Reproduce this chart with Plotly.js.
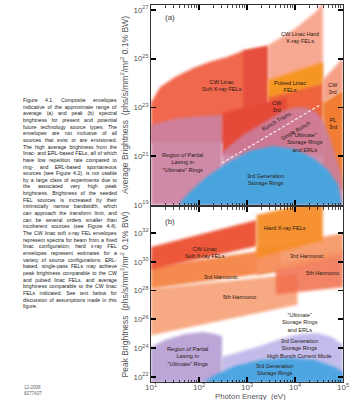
<!DOCTYPE html>
<html><head><meta charset="utf-8">
<script src="https://cdn.plot.ly/plotly-3.0.1.min.js"></script>
<style>html,body{margin:0;padding:0;background:#fff}#chart{width:354px;height:400px}</style>
</head><body><div id="chart"></div>
<script>
// ---- DATA: region envelopes, values as log10(photon energy eV) and log10(brightness) ----
// Panel (a) average brightness
const softRedE = [1.0, 1.19, 1.5, 1.88, 2.23, 2.58, 2.92, 3.21, 3.44, 3.44, 1.0];
const softRedB = [23.2, 23.84, 24.25, 24.62, 24.87, 25.07, 25.32, 25.44, 25.52, 21.56, 21.56];
const softDarkE = [2.92, 3.21, 3.44, 3.44, 2.92];
const softDarkB = [25.32, 25.44, 25.52, 22.08, 22.08];
const hardE = [3.44, 3.7, 3.96, 4.2, 4.45, 4.58, 4.58, 3.44];
const hardB = [25.56, 25.87, 26.18, 26.54, 26.95, 27.31, 22.59, 22.59];
const redOrE = [3.44, 4.58, 4.58, 3.44];
const redOrB = [23.51, 24.03, 21.05, 21.05];
const cw3rdLE = [2.48, 3.83, 3.83, 2.48];
const cw3rdLB = [22.77, 23.41, 21.05, 21.05];
const pulsedE = [3.44, 4.58, 4.58, 3.44];
const pulsedB = [24.13, 24.85, 23.97, 23.41];
const cw3rdRE = [4.58, 5.0, 5.0, 4.58];
const cw3rdRB = [24.13, 25.03, 23.72, 23.2];
const pl3rdE = [4.58, 5.0, 5.0, 4.58];
const pl3rdB = [23.2, 23.72, 19.62, 19.62];
const partialAE = [1.0, 1.0, 1.19, 1.5, 1.88, 2.2, 2.48, 2.48];
const partialAB = [19.0, 22.28, 22.38, 22.54, 22.62, 22.67, 22.69, 19.0];
const domeAE = [2.48, 2.92, 3.44, 3.75, 4.04, 4.27, 4.46, 4.60, 4.73, 4.85, 4.94, 5.0, 5.0, 2.48];
const domeAB = [21.17, 21.87, 22.49, 22.86, 23.02, 22.98, 22.77, 22.4, 21.75, 21.05, 20.44, 19.82, 19.0, 19.0];
const blueAE = [1.56, 1.81, 2.13, 2.58, 3.06, 3.54, 4.0, 4.38, 4.69, 4.9, 4.98];
const blueAB = [19.0, 19.53, 20.11, 20.72, 21.22, 21.42, 21.3, 20.93, 20.44, 19.82, 19.0];
const dashE = [2.48, 4.52];
const dashB = [20.72, 23.1];
// Panel (b) peak brightness
const softFundE = [1.0, 3.2, 3.2, 1.0];
const softFundB = [31.03, 32.89, 31.07, 29.45];
const soft3rdE = [1.0, 3.7, 3.7, 1.0];
const soft3rdB = [29.65, 30.96, 29.34, 28.13];
const soft5thE = [1.0, 4.05, 4.05, 1.0];
const soft5thB = [28.13, 29.14, 27.02, 24.89];
const hardFundE = [3.2, 4.58, 4.58, 3.2];
const hardFundB = [33.24, 34.31, 31.47, 30.26];
const hard3rdE = [3.2, 5.0, 5.0, 3.2];
const hard3rdB = [30.96, 31.98, 30.46, 29.04];
const hard5thE = [3.6, 5.0, 5.0, 3.6];
const hard5thB = [29.75, 30.81, 28.23, 27.72];
const partialBE = [1.0, 1.0, 1.29, 1.71, 2.08, 2.33, 2.48, 2.48];
const partialBB = [21.6, 24.08, 24.56, 24.98, 25.12, 24.98, 24.84, 21.6];
const hbcE = [2.48, 2.85, 3.27, 3.75, 4.1, 4.46, 4.77, 5.0, 5.0, 2.48];
const hbcB = [23.38, 23.73, 24.15, 24.71, 24.98, 25.05, 24.77, 24.22, 21.6, 21.6];
const blueBE = [2.08, 2.33, 2.75, 3.27, 3.9, 4.42, 4.83, 5.0, 5.0];
const blueBB = [21.6, 22.13, 22.76, 23.18, 23.32, 23.18, 22.69, 22.35, 21.6];

// tick exponents
const xTickExp = [1, 2, 3, 4, 5];
const yaLabelExp = [19, 21, 23, 25, 27];
const ybLabelExp = [22, 24, 26, 28, 30, 32];

const captionLines = [
 "Figure 4.1. Composite envelopes",
 "indicative of the approximate range of",
 "average (a) and peak (b) spectral",
 "brightness for present and potential",
 "future technology source types. The",
 "envelopes are not inclusive of all",
 "sources that exist or are envisioned.",
 "The high average brightness from the",
 "linac- and ERL-based FELs, all of which",
 "have low repetition rate compared to",
 "ring- and ERL-based spontaneous",
 "sources (see Figure 4.2), is not usable",
 "by a large class of experiments due to",
 "the associated very high peak",
 "brightness. Brightness of the seeded",
 "FEL sources is increased by their",
 "intrinsically narrow bandwidth, which",
 "can approach the transform limit, and",
 "can be several orders smaller than",
 "incoherent sources (see Figure 4.4).",
 "The CW linac soft x-ray FEL envelopes",
 "represent spectra for beam from a fixed",
 "linac configuration; hard x-ray FEL",
 "envelopes represent estimates for a",
 "variety of source configurations. ERL-",
 "based, single-pass FELs may achieve",
 "peak brightness comparable to the CW",
 "and pulsed linac FELs, and average",
 "brightness comparable to the CW linac",
 "FELs indicated. See text below for",
 "discussion of assumptions made in this",
 "figure."
];

// ---- build ----
const P = v => Math.pow(10, v);
const FONT = 'Liberation Sans, Arial, sans-serif';
function poly(E, B, color, panel) {
  return {type:'scatter', mode:'lines', x:E.map(P), y:B.map(P), fill:'toself',
    fillcolor:color, line:{width:0, color:'rgba(0,0,0,0)'}, hoverinfo:'skip', showlegend:false,
    xaxis: panel==='a'?'x':'x2', yaxis: panel==='a'?'y':'y2'};
}
const data = [
  poly(softRedE, softRedB, 'rgb(240,104,78)', 'a'),
  poly(softDarkE, softDarkB, 'rgb(230,80,60)', 'a'),
  poly(hardE, hardB, 'rgb(247,168,145)', 'a'),
  poly(redOrE, redOrB, 'rgb(238,100,58)', 'a'),
  poly(cw3rdLE, cw3rdLB, 'rgb(229,72,55)', 'a'),
  poly(pulsedE, pulsedB, 'rgb(246,150,35)', 'a'),
  poly(cw3rdRE, cw3rdRB, 'rgb(246,160,135)', 'a'),
  poly(pl3rdE, pl3rdB, 'rgb(240,125,50)', 'a'),
  poly(partialAE, partialAB, 'rgba(203,128,160,0.92)', 'a'),
  poly(domeAE, domeAB, 'rgba(203,128,160,0.88)', 'a'),
  poly(blueAE, blueAB, 'rgb(74,164,222)', 'a'),
  {type:'scatter', mode:'lines', x:dashE.map(P), y:dashB.map(P), line:{color:'rgba(255,255,255,0.9)', width:1.1, dash:'3px,2px'}, hoverinfo:'skip', showlegend:false, xaxis:'x', yaxis:'y'},
  poly(soft5thE, soft5thB, 'rgba(246,160,118,0.9)', 'b'),
  poly(soft3rdE, soft3rdB, 'rgba(243,125,60,0.9)', 'b'),
  poly(hard5thE, hard5thB, 'rgba(240,108,75,0.85)', 'b'),
  poly(hard3rdE, hard3rdB, 'rgba(246,148,98,0.9)', 'b'),
  poly(softFundE, softFundB, 'rgba(236,80,48,0.95)', 'b'),
  poly(hardFundE, hardFundB, 'rgba(246,140,38,0.95)', 'b'),
  poly(hbcE, hbcB, 'rgb(195,188,235)', 'b'),
  poly(partialBE, partialBB, 'rgb(188,165,215)', 'b'),
  poly(blueBE, blueBB, 'rgb(78,165,225)', 'b')
];

const decades = (lo, hi) => { const a=[]; for(let d=Math.ceil(lo); d<=Math.floor(hi); d++) a.push(Math.pow(10,d)); return a; };
const minorOf = (lo, hi) => { const a=[]; for(let d=Math.floor(lo); d<Math.ceil(hi); d++) for(let k=2;k<10;k++) a.push(k*Math.pow(10,d)); return a; };
const tickFont = {family:FONT, size:8, color:'#555'};
const supLabel = e => '10<sup>'+e+'</sup>';
const minorStyle = vals => ({tickmode:'array', tickvals:vals, ticks:'inside', ticklen:2.5, tickwidth:0.7, tickcolor:'#000', showgrid:false});

function xax(anchor, showLabels) {
  const o = {type:'log', range:[1,5], anchor:anchor, domain:[0,1],
    tickmode:'array', tickvals:xTickExp.map(P),
    ticks:'inside', ticklen:5, tickwidth:1.4, tickcolor:'#000', showline:true, linecolor:'#000', linewidth:0.8,
    mirror:'allticks', showgrid:false, zeroline:false, tickfont:tickFont, showticklabels:showLabels,
    minor:minorStyle(minorOf(1,5))};
  if (showLabels) { o.ticktext = xTickExp.map(supLabel); o.ticklabelstandoff = -2; }
  return o;
}
function yax(labelExps, domain, anchor, title, lo, hi) {
  return {type:'log', range:[lo,hi], domain:domain, anchor:anchor,
    tickmode:'array', tickvals:labelExps.map(P), ticktext:labelExps.map(supLabel),
    ticks:'inside', ticklen:5, tickwidth:1.8, tickcolor:'#000', showline:true, linecolor:'#000', linewidth:0.8,
    mirror:'allticks', showgrid:false, zeroline:false, tickfont:tickFont,
    title:{text:title, font:{family:FONT, size:8.5, color:'#555'}, standoff:3}};
}
function yover(base, lo, hi) {
  return {type:'log', range:[lo,hi], overlaying:base, anchor:'free', position:0, side:'left',
    tickmode:'array', tickvals:decades(lo,hi), showticklabels:false,
    ticks:'inside', ticklen:5, tickwidth:1.8, tickcolor:'#000', showline:false,
    mirror:'allticks', showgrid:false, zeroline:false, minor:minorStyle(minorOf(lo,hi))};
}

const W=354, H=400, L=151, R=11, T=5, Bm=18;
const pw = W-L-R, ph = H-T-Bm;
const px2paperX = px => (px-L)/pw;
const py2paperY = py => (H-Bm-py)/ph;

const lab = (txt, x, y, panel, extra) => Object.assign({text:txt, x:x, y:y, xref: panel==='a'?'x':'x2', yref: panel==='a'?'y':'y2',
  showarrow:false, font:{family:FONT, size:5.6, color:'#2a1a14'}, align:'center'}, extra||{});

const annotations = [
  lab('(a)', 1.4, 26.67, 'a', {font:{family:FONT, size:8, color:'#444'}}),
  lab('CW Linac Hard<br>X-ray FELs', 4.104, 25.85, 'a'),
  lab('CW Linac<br>Soft X-ray FELs', 2.479, 23.92, 'a'),
  lab('Pulsed Linac<br>FELs', 3.896, 23.84, 'a'),
  lab('CW<br>3rd', 3.625, 23.02, 'a'),
  lab('CW<br>3rd', 4.79, 23.76, 'a'),
  lab('PL<br>3rd', 4.79, 22.36, 'a'),
  lab('Bunch Trains', 3.62, 22.45, 'a', {textangle:-30}),
  lab('Single Bunch', 4.0, 22.04, 'a', {textangle:-30}),
  lab('"Ultimate"<br>Storage Rings<br>and ERLs', 4.21, 21.58, 'a'),
  lab('Region of Partial<br>Lasing in<br>"Ultimate" Rings', 1.646, 20.76, 'a'),
  lab('3rd Generation<br>Storage Rings', 3.375, 20.03, 'a'),
  lab('(b)', 1.4, 32.76, 'b', {font:{family:FONT, size:8, color:'#444'}}),
  lab('Hard X-ray FELs', 3.79, 32.34, 'b'),
  lab('CW Linac<br>Soft X-ray FELs', 2.125, 30.67, 'b'),
  lab('3rd Harmonic', 4.25, 30.4, 'b'),
  lab('5th Harmonic', 4.58, 29.21, 'b'),
  lab('3rd Harmonic', 2.458, 28.94, 'b'),
  lab('5th Harmonic', 2.854, 27.55, 'b'),
  lab('"Ultimate"<br>Storage Rings<br>and ERLs', 4.104, 25.81, 'b'),
  lab('3rd Generation<br>Storage Rings<br>High Bunch Current Mode', 4.104, 24.01, 'b'),
  lab('Region of Partial<br>Lasing in<br>"Ultimate" Rings', 1.77, 23.45, 'b'),
  lab('3rd Generation<br>Storage Rings', 3.583, 22.55, 'b'),
  {text:'Photon Energy  (eV)', xref:'paper', yref:'paper', x:px2paperX(250), y:py2paperY(396.5), xanchor:'center', yanchor:'middle',
   showarrow:false, font:{family:FONT, size:7.8, color:'#555'}},
  {text:'12-2008<br>8277A37', xref:'paper', yref:'paper', x:px2paperX(22), y:py2paperY(390), xanchor:'left', yanchor:'middle',
   showarrow:false, align:'left', font:{family:FONT, size:4.5, color:'#666'}}
];
const CAP0 = annotations.length;
const CAP_LEFT = 22, CAP_RIGHT = 116;
captionLines.forEach((t,i) => {
  annotations.push({text:t, xref:'paper', yref:'paper', x:px2paperX(CAP_LEFT), y:py2paperY(100 + i*6.65),
    xanchor:'left', yanchor:'middle', showarrow:false, align:'left', borderpad:0,
    font:{family:FONT, size:5.2, color:'#222'}});
});

const YA = [19, 27.2], YB = [21.65, 33.8];
const layout = {
  width:W, height:H, margin:{l:L, r:R, t:T, b:Bm, pad:0}, paper_bgcolor:'#fff', plot_bgcolor:'#fff',
  showlegend:false,
  xaxis: xax('y', false),
  xaxis2: xax('y2', true),
  yaxis: yax(yaLabelExp, [177/377, 1], 'x', 'Average Brightness  (phs/s/mm<sup>2</sup>/mr<sup>2</sup> 0.1% BW)', YA[0], YA[1]),
  yaxis2: yax(ybLabelExp, [0, 175/377], 'x2', 'Peak Brightness  (phs/s/mm<sup>2</sup>/mr<sup>2</sup> 0.1% BW)', YB[0], YB[1]),
  yaxis3: yover('y', YA[0], YA[1]),
  yaxis4: yover('y2', YB[0], YB[1]),
  annotations: annotations
};

Plotly.newPlot('chart', data, layout, {staticPlot:true, displayModeBar:false}).then(function(gd){
  const ns = 'http://www.w3.org/2000/svg';
  const svg = gd.querySelector('svg.main-svg');
  let defs = svg.querySelector('defs');
  const f = document.createElementNS(ns, 'filter');
  f.setAttribute('id', 'softedge');
  f.setAttribute('x', '-20%'); f.setAttribute('y', '-20%'); f.setAttribute('width', '140%'); f.setAttribute('height', '140%');
  const g = document.createElementNS(ns, 'feGaussianBlur');
  g.setAttribute('stdDeviation', '1.8');
  f.appendChild(g); defs.appendChild(f);
  gd.querySelectorAll('.scatterlayer path.js-fill').forEach(p => p.setAttribute('filter', 'url(#softedge)'));
  // justify caption lines (all but the last) by widening word spacing
  const anns = gd.querySelectorAll('.annotation');
  for (let i = CAP0; i < CAP0 + captionLines.length - 1; i++) {
    const t = anns[i] && anns[i].querySelector('text.annotation-text');
    if (!t) continue;
    const w = t.getBBox().width;
    const nsp = (captionLines[i - CAP0].match(/ /g) || []).length;
    const extra = (CAP_RIGHT - CAP_LEFT) - w;
    if (nsp > 0 && extra > 0) t.style.wordSpacing = (extra / nsp) + 'px';
  }
});
</script></body></html>
